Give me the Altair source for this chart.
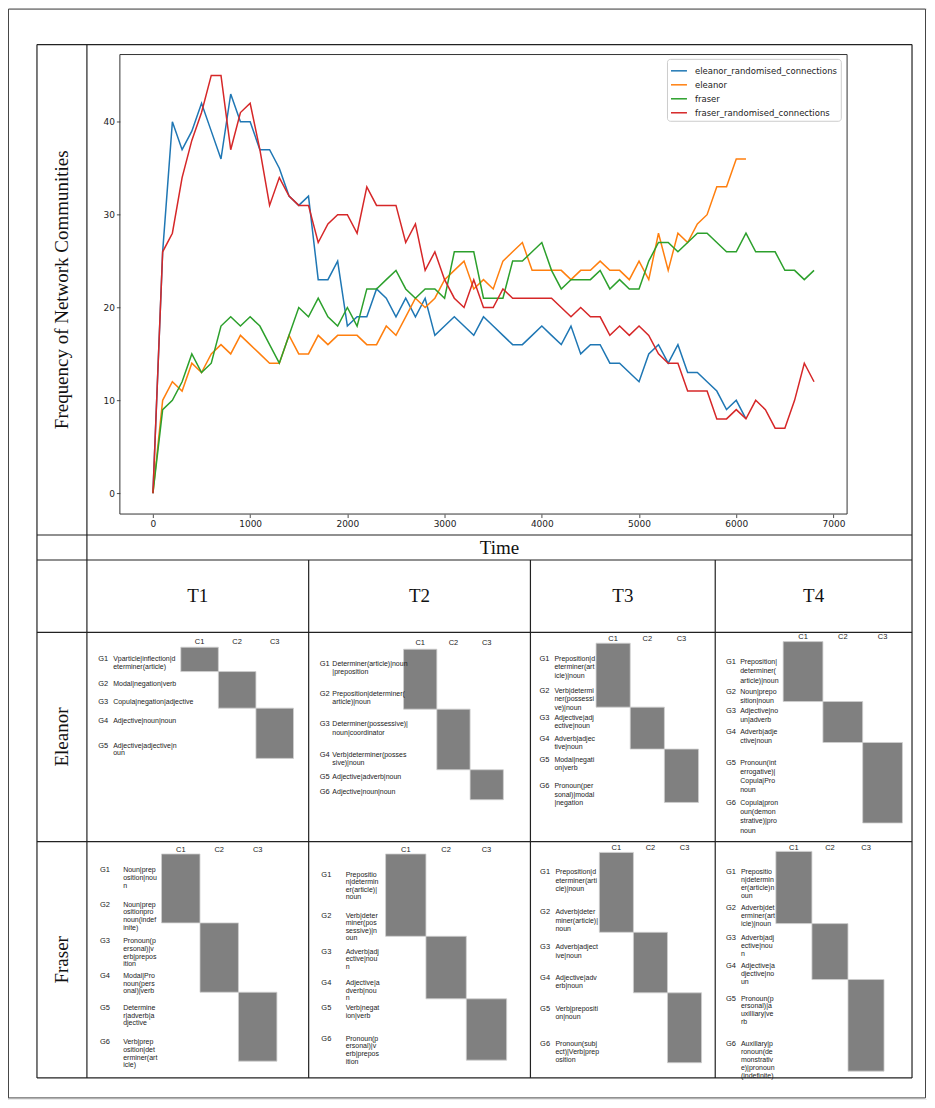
import altair as alt
import pandas as pd

# ---------------- data: line chart ----------------
TIME = [0, 100, 200, 300, 400, 500, 600, 700, 800, 900,
        1000, 1100, 1200, 1300, 1400, 1500, 1600, 1700, 1800, 1900,
        2000, 2100, 2200, 2300, 2400, 2500, 2600, 2700, 2800, 2900,
        3000, 3100, 3200, 3300, 3400, 3500, 3600, 3700, 3800, 3900,
        4000, 4100, 4200, 4300, 4400, 4500, 4600, 4700, 4800, 4900,
        5000, 5100, 5200, 5300, 5400, 5500, 5600, 5700, 5800, 5900,
        6000, 6100, 6200, 6300, 6400, 6500, 6600, 6700, 6800]

ELEANOR_RAND = [0, 26, 40, 37, 39, 42, 39, 36, 43, 40,
                40, 37, 37, 35, 32, 31, 32, 23, 23, 25,
                18, 19, 19, 22, 21, 19, 21, 19, 21, 17,
                18, 19, 18, 17, 19, 18, 17, 16, 16, 17,
                18, 17, 16, 18, 15, 16, 16, 14, 14, 13,
                12, 15, 16, 14, 16, 13, 13, 12, 11, 9,
                10, 8]
ELEANOR = [0, 10, 12, 11, 14, 13, 15, 16, 15, 17,
           16, 15, 14, 14, 17, 15, 15, 17, 16, 17,
           17, 17, 16, 16, 18, 17, 19, 21, 20, 21,
           23, 24, 25, 22, 23, 22, 25, 26, 27, 24,
           24, 24, 24, 23, 24, 24, 25, 24, 24, 23,
           25, 23, 28, 24, 28, 27, 29, 30, 33, 33,
           36, 36]
FRASER = [0, 9, 10, 12, 15, 13, 14, 18, 19, 18,
          19, 18, 16, 14, 17, 20, 19, 21, 19, 18,
          20, 18, 22, 22, 23, 24, 22, 21, 22, 22,
          21, 26, 26, 26, 21, 21, 21, 25, 25, 26,
          27, 24, 22, 23, 23, 23, 24, 22, 23, 22,
          22, 25, 27, 27, 26, 27, 28, 28, 27, 26,
          26, 28, 26, 26, 26, 24, 24, 23, 24]
FRASER_RAND = [0, 26, 28, 34, 38, 41, 45, 45, 37, 41,
               42, 37, 31, 34, 32, 31, 31, 27, 29, 30,
               30, 28, 33, 31, 31, 31, 27, 29, 24, 26,
               23, 21, 20, 23, 20, 20, 22, 21, 21, 21,
               21, 21, 20, 19, 20, 19, 19, 17, 18, 17,
               18, 17, 15, 14, 14, 11, 11, 11, 8, 8,
               9, 8, 10, 9, 7, 7, 10, 14, 12]

SERIES = ["eleanor_randomised_connections", "eleanor", "fraser",
          "fraser_randomised_connections"]
SERIES_VALUES = [ELEANOR_RAND, ELEANOR, FRASER, FRASER_RAND]
COLORS = ["#1f77b4", "#ff7f0e", "#2ca02c", "#d62728"]
X_TICKS = [0, 1000, 2000, 3000, 4000, 5000, 6000, 7000]
Y_TICKS = [0, 10, 20, 30, 40]

# ---------------- data: community tables ----------------
SPEAKERS = ["Eleanor", "Fraser"]
PERIODS = ["T1", "T2", "T3", "T4"]
CLUSTERS = ["C1", "C2", "C3"]

GROUP_TEXT = {
    ("Eleanor", "T1"): ["Vparticle|inflection|d\neterminer(article)",
                        "Modal|negation|verb",
                        "Copula|negation|adjective",
                        "Adjective|noun|noun",
                        "Adjective|adjective|n\noun"],
    ("Eleanor", "T2"): ["Determiner(article)|noun\n|preposition",
                        "Preposition|determiner(\narticle)|noun",
                        "Determiner(possessive)|\nnoun|coordinator",
                        "Verb|determiner(posses\nsive)|noun",
                        "Adjective|adverb|noun",
                        "Adjective|noun|noun"],
    ("Eleanor", "T3"): ["Preposition|d\neterminer(art\nicle)|noun",
                        "Verb|determi\nner(possessi\nve)|noun",
                        "Adjective|adj\nective|noun",
                        "Adverb|adjec\ntive|noun",
                        "Modal|negati\non|verb",
                        "Pronoun(per\nsonal)|modal\n|negation"],
    ("Eleanor", "T4"): ["Preposition|\ndeterminer(\narticle)|noun",
                        "Noun|prepo\nsition|noun",
                        "Adjective|no\nun|adverb",
                        "Adverb|adje\nctive|noun",
                        "Pronoun(int\nerrogative)|\nCopula|Pro\nnoun",
                        "Copula|pron\noun(demon\nstrative)|pro\nnoun"],
    ("Fraser", "T1"): ["Noun|prep\nosition|nou\nn",
                       "Noun|prep\nositionpro\nnoun(indef\ninite)",
                       "Pronoun(p\nersonal)|v\nerb|prepos\nition",
                       "Modal|Pro\nnoun(pers\nonal)|verb",
                       "Determine\nr|adverb|a\ndjective",
                       "Verb|prep\nosition|det\nerminer(art\nicle)"],
    ("Fraser", "T2"): ["Prepositio\nn|determin\ner(article)|\nnoun",
                       "Verb|deter\nminer(pos\nsessive)|n\noun",
                       "Adverb|adj\nective|nou\nn",
                       "Adjective|a\ndverb|nou\nn",
                       "Verb|negat\nion|verb",
                       "Pronoun(p\nersonal)|v\nerb|prepos\nition"],
    ("Fraser", "T3"): ["Preposition|d\neterminer(arti\ncle)|noun",
                       "Adverb|deter\nminer(article)|\nnoun",
                       "Adverb|adject\nive|noun",
                       "Adjective|adv\nerb|noun",
                       "Verb|prepositi\non|noun",
                       "Pronoun(subj\nect)|Verb|prep\nosition"],
    ("Fraser", "T4"): ["Prepositio\nn|determin\ner(article)n\noun",
                       "Adverb|det\nerminer(art\nicle)|noun",
                       "Adverb|adj\nective|nou\nn",
                       "Adjective|a\ndjective|no\nun",
                       "Pronoun(p\nersonal)|a\nuxilliary|ve\nrb",
                       "Auxillary|p\nronoun(de\nmonstrativ\ne)|pronoun\n(indefinite)"],
}
GROUP_CLUSTER = {
    ("Eleanor", "T1"): ["C1", "C2", "C2", "C3", "C3"],
    ("Eleanor", "T2"): ["C1", "C1", "C2", "C2", "C3", "C3"],
    ("Eleanor", "T3"): ["C1", "C1", "C2", "C2", "C3", "C3"],
    ("Eleanor", "T4"): ["C1", "C1", "C2", "C2", "C3", "C3"],
    ("Fraser", "T1"): ["C1", "C1", "C2", "C2", "C3", "C3"],
    ("Fraser", "T2"): ["C1", "C1", "C2", "C2", "C3", "C3"],
    ("Fraser", "T3"): ["C1", "C1", "C2", "C2", "C3", "C3"],
    ("Fraser", "T4"): ["C1", "C1", "C2", "C2", "C3", "C3"],
}

# ---------------- layout (page pixels) ----------------
W, H = 920, 1092
OFF = 8


def px(v):
    return v - OFF


PLOT_X = [px(120), px(848)]
PLOT_Y = [px(514), px(54)]

TAB_L, TAB_C, TAB_R = 37, 87, 913
ROW_Y = [44, 535, 560, 632.5, 842, 1078.5]
COL_X = [309, 531, 716]

PANEL_LAYOUT = {
    ("Eleanor", "T1"): dict(g=98.3, txt=113.3, c0=181.0, cw=37.6, hdr=641.7, top=647.3, lh=7.4,
                            rows=[24.4, 24.0, 12.6, 25.0, 25.3]),
    ("Eleanor", "T2"): dict(g=320.0, txt=332.7, c0=404.0, cw=33.3, hdr=643.3, top=649.3, lh=8.3,
                            rows=[30, 30, 30.7, 30, 15, 15]),
    ("Eleanor", "T3"): dict(g=540.0, txt=555.0, c0=596.7, cw=34.2, hdr=639.3, top=643.3, lh=8.3,
                            rows=[32, 32, 21, 21, 21.4, 32]),
    ("Eleanor", "T4"): dict(g=726.7, txt=741.0, c0=784.0, cw=39.8, hdr=637.3, top=641.7, lh=9.3,
                            rows=[41, 19, 19.3, 21.7, 40.3, 40.3]),
    ("Fraser", "T1"): dict(g=100.0, txt=123.3, c0=161.7, cw=38.5, hdr=850.0, top=854.3, lh=7.7,
                           rows=[32.7, 36.3, 36.7, 32.7, 31.3, 37.7]),
    ("Fraser", "T2"): dict(g=321.7, txt=346.0, c0=386.0, cw=40.4, hdr=850.0, top=854.3, lh=7.6,
                           rows=[41.2, 41.2, 31.3, 31.3, 18.7, 42.7]),
    ("Fraser", "T3"): dict(g=540.7, txt=556.0, c0=600.0, cw=34.1, hdr=848.3, top=852.7, lh=8.3,
                           rows=[40, 40, 30.3, 30.3, 31.7, 38.3]),
    ("Fraser", "T4"): dict(g=726.7, txt=741.7, c0=776.7, cw=36.1, hdr=848.3, top=851.7, lh=8.0,
                           rows=[41.3, 31, 29, 27, 38, 53.7]),
}

SERIF = "Liberation Serif"
SANS = "Liberation Sans"

# ---------------- line chart ----------------
rows = []
for name, vals in zip(SERIES, SERIES_VALUES):
    for t, v in zip(TIME, vals):
        rows.append({"series": name, "time": t, "value": v})
df = pd.DataFrame(rows)

t_lo, t_hi = min(TIME), max(TIME)
all_v = [v for s in SERIES_VALUES for v in s]
v_lo, v_hi = min(all_v), max(all_v)
XDOM = [t_lo - 0.05 * (t_hi - t_lo), t_hi + 0.05 * (t_hi - t_lo)]
YDOM = [v_lo - 0.05 * (v_hi - v_lo), v_hi + 0.05 * (v_hi - v_lo)]


def xs():
    return alt.Scale(domain=XDOM, range=PLOT_X, nice=False, zero=False)


def ys():
    return alt.Scale(domain=YDOM, range=PLOT_Y, nice=False, zero=False)


axis_common = dict(grid=False, domain=False, title=None, labelFont="DejaVu Sans",
                   labelFontSize=9, labelColor="#222222", tickColor="#222222",
                   tickSize=3.5, tickWidth=0.8, labelPadding=2, format="d")

lines = alt.Chart(df).mark_line(strokeWidth=1.5).encode(
    x=alt.X("time:Q", scale=xs(),
            axis=alt.Axis(values=X_TICKS, offset=PLOT_Y[0] - H, **axis_common)),
    y=alt.Y("value:Q", scale=ys(),
            axis=alt.Axis(values=Y_TICKS, offset=-PLOT_X[0], **axis_common)),
    color=alt.Color("series:N", scale=alt.Scale(domain=SERIES, range=COLORS),
                    legend=alt.Legend(orient="none", legendX=px(667.7), legendY=px(58.3),
                                      title=None, symbolType="stroke", symbolSize=256,
                                      symbolStrokeWidth=1.5, labelFont="DejaVu Sans",
                                      labelFontSize=8.5, labelColor="#222222",
                                      rowPadding=-3, labelOffset=7, padding=3,
                                      fillColor="white", strokeColor="#cccccc",
                                      cornerRadius=3)),
)

spine = alt.Chart(pd.DataFrame([{"x0": XDOM[0], "x1": XDOM[1], "y0": YDOM[0], "y1": YDOM[1]}])).mark_rect(
    fillOpacity=0, stroke="#333333", strokeWidth=1).encode(
    x=alt.X("x0:Q", scale=xs(), axis=None), x2="x1:Q",
    y=alt.Y("y0:Q", scale=ys(), axis=None), y2="y1:Q")

# ---------------- table grid ----------------
grid_rows = []
for y in ROW_Y:
    grid_rows.append({"x0": px(TAB_L), "x1": px(TAB_R), "y0": px(y), "y1": px(y)})
for x in [TAB_L, TAB_C, TAB_R]:
    grid_rows.append({"x0": px(x), "x1": px(x), "y0": px(ROW_Y[0]), "y1": px(ROW_Y[-1])})
for x in COL_X:
    grid_rows.append({"x0": px(x), "x1": px(x), "y0": px(ROW_Y[2]), "y1": px(ROW_Y[-1])})
grid = alt.Chart(pd.DataFrame(grid_rows)).mark_rule(color="#222222", strokeWidth=1.2).encode(
    x=alt.X("x0:Q", scale=None, axis=None), x2="x1:Q",
    y=alt.Y("y0:Q", scale=None, axis=None), y2="y1:Q")

frame = alt.Chart(pd.DataFrame([{"x0": 0.5, "x1": W - 1.5, "y0": 0.5, "y1": H - 1.5}])).mark_rect(
    fillOpacity=0, stroke="#444444", strokeWidth=1).encode(
    x=alt.X("x0:Q", scale=None, axis=None), x2="x1:Q",
    y=alt.Y("y0:Q", scale=None, axis=None), y2="y1:Q")

# headings
col_edges = [TAB_C] + COL_X + [TAB_R]
head_rows = [{"x": px((TAB_C + TAB_R) / 2), "y": px((ROW_Y[1] + ROW_Y[2]) / 2), "t": "Time"}]
for i, p in enumerate(PERIODS):
    head_rows.append({"x": px((col_edges[i] + col_edges[i + 1]) / 2),
                      "y": px((ROW_Y[2] + ROW_Y[3]) / 2), "t": p})
heads = alt.Chart(pd.DataFrame(head_rows)).mark_text(
    font=SERIF, fontSize=19, color="#111111", align="center", baseline="middle").encode(
    x=alt.X("x:Q", scale=None, axis=None), y=alt.Y("y:Q", scale=None, axis=None), text="t:N")

rot_rows = [{"x": px((TAB_L + TAB_C) / 2), "y": px((ROW_Y[0] + ROW_Y[1]) / 2),
             "t": "Frequency of Network Communities"},
            {"x": px((TAB_L + TAB_C) / 2), "y": px((ROW_Y[3] + ROW_Y[4]) / 2), "t": SPEAKERS[0]},
            {"x": px((TAB_L + TAB_C) / 2), "y": px((ROW_Y[4] + ROW_Y[5]) / 2), "t": SPEAKERS[1]}]
rot_heads = alt.Chart(pd.DataFrame(rot_rows)).mark_text(
    font=SERIF, fontSize=19, color="#111111", align="center", baseline="middle", angle=270).encode(
    x=alt.X("x:Q", scale=None, axis=None), y=alt.Y("y:Q", scale=None, axis=None), text="t:N")

# ---------------- community panels ----------------
block_rows, g_rows, c_rows = [], [], []
text_layers = []
for sp in SPEAKERS:
    for per in PERIODS:
        key = (sp, per)
        L = PANEL_LAYOUT[key]
        labels = GROUP_TEXT[key]
        assign = GROUP_CLUSTER[key]
        edges = [L["top"]]
        for h in L["rows"]:
            edges.append(edges[-1] + h)
        # cluster headers
        for ci, c in enumerate(CLUSTERS):
            c_rows.append({"x": px(L["c0"] + (ci + 0.5) * L["cw"]), "y": px(L["hdr"]), "t": c})
        # blocks: contiguous group span of each cluster
        for ci, c in enumerate(CLUSTERS):
            idx = [i for i, a in enumerate(assign) if a == c]
            if not idx:
                continue
            block_rows.append({"x0": px(L["c0"] + ci * L["cw"]), "x1": px(L["c0"] + (ci + 1) * L["cw"]),
                               "y0": px(edges[min(idx)]), "y1": px(edges[max(idx) + 1])})
        # group labels
        trows = []
        for i, lab in enumerate(labels):
            yc = (edges[i] + edges[i + 1]) / 2
            g_rows.append({"x": px(L["g"]), "y": px(yc), "t": f"G{i + 1}"})
            trows.append({"x": px(L["txt"]), "y": px(yc), "t": lab})
        text_layers.append(
            alt.Chart(pd.DataFrame(trows)).mark_text(
                font=SANS, fontSize=7, color="#222222", align="left", baseline="middle",
                lineBreak="\n", lineHeight=L["lh"]).encode(
                x=alt.X("x:Q", scale=None, axis=None), y=alt.Y("y:Q", scale=None, axis=None),
                text="t:N"))

blocks = alt.Chart(pd.DataFrame(block_rows)).mark_rect(
    fill="#808080", stroke="#cfcfcf", strokeWidth=0.8).encode(
    x=alt.X("x0:Q", scale=None, axis=None), x2="x1:Q",
    y=alt.Y("y0:Q", scale=None, axis=None), y2="y1:Q")

g_marks = alt.Chart(pd.DataFrame(g_rows)).mark_text(
    font=SANS, fontSize=7.5, color="#222222", align="left", baseline="middle").encode(
    x=alt.X("x:Q", scale=None, axis=None), y=alt.Y("y:Q", scale=None, axis=None), text="t:N")

c_marks = alt.Chart(pd.DataFrame(c_rows)).mark_text(
    font=SANS, fontSize=7.5, color="#222222", align="center", baseline="middle").encode(
    x=alt.X("x:Q", scale=None, axis=None), y=alt.Y("y:Q", scale=None, axis=None), text="t:N")

chart = alt.layer(
    frame, grid, blocks, spine, lines, heads, rot_heads, g_marks, c_marks, *text_layers
).resolve_scale(x="independent", y="independent").properties(
    width=W, height=H, padding=0, autosize=alt.AutoSizeParams(type="none")
).configure_view(stroke=None).configure(background="white")

chart.save("out.html", embed_options={"renderer": "svg", "actions": False})
